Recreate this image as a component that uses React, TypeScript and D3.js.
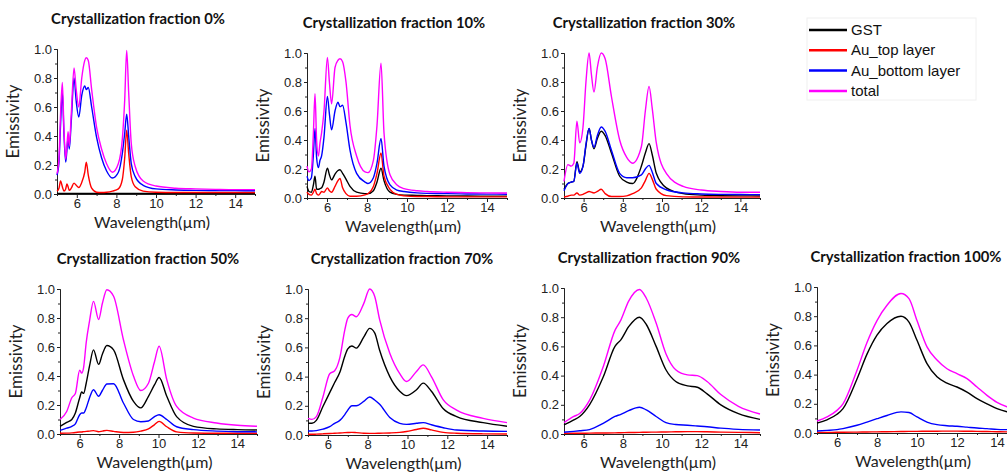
import React, { useEffect, useRef } from 'react'
import * as d3 from 'd3'

const seriesNames = ['GST', 'Au_top layer', 'Au_bottom layer', 'total']
const seriesColors = ['#000000', '#ff0000', '#0000ff', '#ff00ff']

// crystallization fraction 0%
const wl0 = [5.0, 5.1, 5.18, 5.27, 5.35, 5.44, 5.5, 5.56, 5.62, 5.72, 5.86, 5.97, 6.1, 6.25, 6.4, 6.48, 6.58, 6.75, 7.0, 7.25, 7.5, 7.8, 8.1, 8.3, 8.42, 8.52, 8.62, 8.75, 8.95, 9.35, 10, 11, 12, 13, 14, 15]
const tot0 = [0.14, 0.25, 0.55, 0.77, 0.45, 0.24, 0.33, 0.43, 0.33, 0.55, 0.87, 0.72, 0.6, 0.8, 0.92, 0.94, 0.92, 0.72, 0.46, 0.31, 0.21, 0.15, 0.21, 0.38, 0.65, 0.99, 0.7, 0.35, 0.19, 0.09, 0.055, 0.04, 0.035, 0.032, 0.03, 0.03]
const bot0 = [0.13, 0.22, 0.48, 0.7, 0.42, 0.22, 0.3, 0.39, 0.31, 0.5, 0.8, 0.64, 0.53, 0.68, 0.745, 0.72, 0.735, 0.6, 0.39, 0.25, 0.16, 0.11, 0.15, 0.28, 0.42, 0.55, 0.4, 0.21, 0.12, 0.06, 0.035, 0.028, 0.025, 0.024, 0.023, 0.022]
const top0 = [0.02, 0.04, 0.09, 0.05, 0.02, 0.035, 0.07, 0.05, 0.025, 0.04, 0.075, 0.06, 0.045, 0.08, 0.15, 0.22, 0.13, 0.04, 0.012, 0.01, 0.012, 0.02, 0.035, 0.1, 0.25, 0.44, 0.28, 0.12, 0.05, 0.02, 0.012, 0.01, 0.01, 0.01, 0.01, 0.01]
const gst0 = [0.004, 0.004, 0.004, 0.004, 0.004, 0.004, 0.004, 0.004, 0.004, 0.004, 0.004, 0.004, 0.004, 0.004, 0.004, 0.004, 0.004, 0.004, 0.004, 0.004, 0.004, 0.004, 0.004, 0.004, 0.004, 0.004, 0.004, 0.004, 0.004, 0.004, 0.004, 0.004, 0.004, 0.004, 0.004, 0.004]

// 10%
const wl10 = [5.0, 5.1, 5.22, 5.32, 5.4, 5.48, 5.57, 5.65, 5.73, 5.85, 6.02, 6.12, 6.23, 6.4, 6.55, 6.65, 6.78, 6.95, 7.15, 7.48, 7.9, 8.05, 8.32, 8.5, 8.7, 8.85, 9.15, 9.5, 9.85, 10.5, 11, 12, 13, 14, 15]
const tot10 = [0.22, 0.18, 0.2, 0.45, 0.72, 0.4, 0.29, 0.38, 0.45, 0.6, 0.97, 0.8, 0.65, 0.9, 0.95, 0.96, 0.94, 0.8, 0.5, 0.29, 0.18, 0.175, 0.26, 0.5, 0.93, 0.45, 0.16, 0.09, 0.065, 0.05, 0.045, 0.04, 0.037, 0.035, 0.034]
const bot10 = [0.15, 0.12, 0.14, 0.3, 0.48, 0.28, 0.21, 0.26, 0.29, 0.42, 0.7, 0.58, 0.47, 0.6, 0.66, 0.63, 0.64, 0.52, 0.33, 0.17, 0.11, 0.1, 0.14, 0.24, 0.41, 0.22, 0.09, 0.055, 0.045, 0.035, 0.032, 0.03, 0.028, 0.027, 0.026]
const gst10 = [0.08, 0.045, 0.04, 0.09, 0.15, 0.06, 0.06, 0.065, 0.07, 0.11, 0.205, 0.16, 0.125, 0.165, 0.19, 0.195, 0.17, 0.13, 0.08, 0.04, 0.03, 0.03, 0.05, 0.11, 0.205, 0.12, 0.04, 0.025, 0.02, 0.018, 0.016, 0.015, 0.014, 0.013, 0.013]
const top10 = [0.04, 0.025, 0.02, 0.04, 0.06, 0.03, 0.02, 0.03, 0.045, 0.04, 0.07, 0.05, 0.04, 0.08, 0.12, 0.135, 0.07, 0.03, 0.012, 0.012, 0.022, 0.03, 0.08, 0.17, 0.31, 0.15, 0.06, 0.025, 0.015, 0.01, 0.01, 0.008, 0.008, 0.008, 0.008]

// 30%
const wl30 = [5.0, 5.2, 5.37, 5.5, 5.66, 5.8, 5.97, 6.12, 6.28, 6.4, 6.53, 6.7, 6.9, 7.1, 7.42, 7.84, 8.2, 8.5, 8.95, 9.15, 9.34, 9.5, 9.71, 10.22, 11.08, 12, 13, 14, 15]
const tot30 = [0.115, 0.23, 0.22, 0.24, 0.53, 0.38, 0.49, 0.8, 1.0, 0.85, 0.73, 0.9, 1.0, 0.96, 0.7, 0.4, 0.28, 0.24, 0.355, 0.6, 0.77, 0.62, 0.38, 0.17, 0.08, 0.055, 0.045, 0.04, 0.04]
const gst30 = [0.06, 0.1, 0.11, 0.115, 0.25, 0.18, 0.22, 0.36, 0.48, 0.4, 0.34, 0.41, 0.46, 0.43, 0.31, 0.15, 0.11, 0.1, 0.22, 0.31, 0.375, 0.3, 0.17, 0.07, 0.03, 0.02, 0.016, 0.015, 0.014]
const bot30 = [0.05, 0.1, 0.11, 0.115, 0.24, 0.17, 0.22, 0.37, 0.48, 0.4, 0.35, 0.43, 0.49, 0.46, 0.33, 0.17, 0.14, 0.14, 0.16, 0.2, 0.225, 0.18, 0.1, 0.057, 0.035, 0.028, 0.025, 0.024, 0.023]
const top30 = [0.007, 0.012, 0.02, 0.02, 0.035, 0.02, 0.025, 0.035, 0.045, 0.04, 0.035, 0.045, 0.06, 0.03, 0.01, 0.01, 0.015, 0.03, 0.07, 0.12, 0.17, 0.13, 0.06, 0.016, 0.008, 0.007, 0.006, 0.006, 0.006]

// 50%
const wl50 = [5.0, 5.34, 5.6, 5.78, 6.0, 6.1, 6.2, 6.33, 6.5, 6.7, 6.96, 7.15, 7.38, 7.72, 8.22, 8.73, 9.1, 9.49, 9.8, 10.03, 10.42, 10.92, 11.77, 12.95, 14, 15]
const tot50 = [0.1, 0.155, 0.25, 0.28, 0.44, 0.42, 0.46, 0.63, 0.78, 0.915, 0.79, 0.9, 0.995, 0.95, 0.65, 0.4, 0.3, 0.35, 0.5, 0.605, 0.375, 0.19, 0.11, 0.076, 0.06, 0.053]
const gst50 = [0.053, 0.08, 0.1, 0.145, 0.25, 0.29, 0.28, 0.35, 0.47, 0.58, 0.48, 0.55, 0.61, 0.58, 0.375, 0.225, 0.18, 0.26, 0.34, 0.39, 0.26, 0.12, 0.053, 0.035, 0.03, 0.028]
const bot50 = [0.025, 0.04, 0.053, 0.07, 0.133, 0.145, 0.145, 0.18, 0.25, 0.305, 0.26, 0.3, 0.345, 0.347, 0.214, 0.1, 0.085, 0.09, 0.12, 0.133, 0.1, 0.05, 0.03, 0.02, 0.016, 0.015]
const top50 = [0.005, 0.006, 0.008, 0.01, 0.014, 0.014, 0.016, 0.018, 0.02, 0.023, 0.016, 0.02, 0.025, 0.018, 0.01, 0.012, 0.02, 0.035, 0.065, 0.087, 0.05, 0.015, 0.007, 0.005, 0.005, 0.005]

// 70%
const wl70 = [5.0, 5.2, 5.42, 5.75, 6.09, 6.34, 6.6, 6.85, 7.0, 7.2, 7.43, 7.8, 8.1, 8.35, 8.6, 9.11, 9.61, 9.95, 10.45, 10.79, 11.2, 11.8, 12.47, 13.8, 15]
const tot70 = [0.114, 0.107, 0.126, 0.26, 0.42, 0.44, 0.53, 0.72, 0.8, 0.825, 0.81, 0.9, 1.0, 0.95, 0.79, 0.56, 0.42, 0.366, 0.435, 0.48, 0.4, 0.24, 0.17, 0.114, 0.085]
const gst70 = [0.08, 0.08, 0.1, 0.195, 0.29, 0.36, 0.43, 0.54, 0.59, 0.61, 0.595, 0.67, 0.73, 0.7, 0.58, 0.4, 0.3, 0.27, 0.31, 0.355, 0.3, 0.18, 0.126, 0.085, 0.06]
const bot70 = [0.027, 0.027, 0.03, 0.04, 0.057, 0.08, 0.1, 0.14, 0.17, 0.2, 0.2, 0.23, 0.26, 0.24, 0.21, 0.12, 0.08, 0.073, 0.08, 0.085, 0.07, 0.05, 0.034, 0.027, 0.025]
const top70 = [0.005, 0.005, 0.006, 0.008, 0.01, 0.012, 0.014, 0.016, 0.017, 0.018, 0.016, 0.012, 0.011, 0.011, 0.012, 0.014, 0.018, 0.024, 0.038, 0.046, 0.035, 0.018, 0.012, 0.008, 0.007]

// 90%
const wl90 = [5.0, 5.5, 5.8, 6.3, 7.0, 7.6, 7.9, 8.3, 8.85, 9.2, 9.7, 10.2, 10.7, 11.3, 11.8, 12.3, 13, 13.9, 15]
const tot90 = [0.078, 0.12, 0.14, 0.23, 0.46, 0.71, 0.78, 0.91, 0.99, 0.93, 0.76, 0.55, 0.44, 0.405, 0.4, 0.36, 0.27, 0.19, 0.137]
const gst90 = [0.062, 0.096, 0.12, 0.2, 0.39, 0.6, 0.645, 0.735, 0.8, 0.75, 0.6, 0.44, 0.36, 0.33, 0.32, 0.275, 0.2, 0.14, 0.1]
const bot90 = [0.012, 0.018, 0.022, 0.03, 0.073, 0.12, 0.135, 0.16, 0.183, 0.165, 0.12, 0.078, 0.065, 0.06, 0.055, 0.05, 0.04, 0.032, 0.027]
const top90 = [0.004, 0.005, 0.005, 0.006, 0.007, 0.008, 0.009, 0.01, 0.011, 0.012, 0.013, 0.014, 0.015, 0.016, 0.016, 0.015, 0.013, 0.011, 0.009]

// 100%
const wl100 = [5.0, 5.5, 6.0, 6.3, 7.0, 7.5, 8.0, 8.5, 9.2, 9.6, 10, 10.5, 11, 11.5, 12, 12.5, 13, 13.5, 14, 14.5, 15]
const tot100 = [0.082, 0.11, 0.155, 0.2, 0.43, 0.62, 0.77, 0.875, 0.955, 0.92, 0.77, 0.59, 0.5, 0.44, 0.406, 0.372, 0.315, 0.258, 0.21, 0.18, 0.16]
const gst100 = [0.068, 0.09, 0.128, 0.167, 0.37, 0.54, 0.67, 0.75, 0.8, 0.76, 0.635, 0.475, 0.385, 0.342, 0.315, 0.28, 0.235, 0.2, 0.167, 0.145, 0.13]
const bot100 = [0.014, 0.018, 0.023, 0.03, 0.053, 0.075, 0.098, 0.12, 0.145, 0.14, 0.11, 0.075, 0.057, 0.05, 0.046, 0.04, 0.034, 0.03, 0.025, 0.023, 0.022]
const top100 = [0.004, 0.004, 0.005, 0.005, 0.006, 0.007, 0.008, 0.009, 0.01, 0.011, 0.011, 0.012, 0.012, 0.013, 0.013, 0.012, 0.011, 0.01, 0.009, 0.008, 0.008]

const xMajor = [6, 8, 10, 12, 14]
const xMinor = [5, 7, 9, 11, 13, 15]
const yMajor = [0, 0.2, 0.4, 0.6, 0.8, 1.0]
const yMinor = [0.1, 0.3, 0.5, 0.7, 0.9]

const panels = [
  { title: 'Crystallization fraction 0%', wl: wl0, series: [gst0, top0, bot0, tot0] },
  { title: 'Crystallization fraction 10%', wl: wl10, series: [gst10, top10, bot10, tot10] },
  { title: 'Crystallization fraction 30%', wl: wl30, series: [gst30, top30, bot30, tot30] },
  { title: 'Crystallization fraction 50%', wl: wl50, series: [gst50, top50, bot50, tot50] },
  { title: 'Crystallization fraction 70%', wl: wl70, series: [gst70, top70, bot70, tot70] },
  { title: 'Crystallization fraction 90%', wl: wl90, series: [gst90, top90, bot90, tot90] },
  { title: 'Crystallization fraction 100%', wl: wl100, series: [gst100, top100, bot100, tot100] },
]

// plot boxes in page pixels
const layout = [
  { left: 57, right: 255, top: 49, bottom: 194, titleX: 138 },
  { left: 307, right: 507, top: 53, bottom: 198, titleX: 394 },
  { left: 564, right: 760, top: 53, bottom: 198, titleX: 644 },
  { left: 60, right: 257, top: 289, bottom: 434, titleX: 148 },
  { left: 308, right: 507, top: 289, bottom: 435, titleX: 402 },
  { left: 564, right: 760, top: 288, bottom: 434, titleX: 649 },
  { left: 817, right: 1017, top: 287, bottom: 433, titleX: 906 },
]

const W = 1007
const H = 476

const App = () => {
  const ref = useRef<SVGSVGElement>(null)

  useEffect(() => {
    const svg = d3.select(ref.current)
    svg.selectAll('*').remove()

    panels.forEach((p, i) => {
      const b = layout[i]
      const x = d3.scaleLinear().domain([5, 15]).range([b.left, b.right])
      const y = d3.scaleLinear().domain([0, 1]).range([b.bottom, b.top])
      const g = svg.append('g')

      // minor ticks
      g.append('g')
        .attr('transform', `translate(0,${b.bottom})`)
        .call(d3.axisBottom(x).tickValues(xMinor).tickSize(2).tickFormat(() => ''))
      g.append('g')
        .attr('transform', `translate(${b.left},0)`)
        .call(d3.axisLeft(y).tickValues(yMinor).tickSize(2).tickFormat(() => ''))

      g.append('g')
        .attr('transform', `translate(0,${b.bottom})`)
        .call(d3.axisBottom(x).tickValues(xMajor).tickSize(4).tickPadding(1).tickSizeOuter(0))
      g.append('g')
        .attr('transform', `translate(${b.left},0)`)
        .call(d3.axisLeft(y).tickValues(yMajor).tickFormat(d3.format('.1f')).tickSize(3).tickPadding(2).tickSizeOuter(0))

      g.selectAll('.domain, .tick line').attr('stroke', '#222')
      g.selectAll('.tick text')
        .attr('fill', '#222')
        .style('font-family', '"Liberation Sans", Arial, sans-serif')
        .style('font-size', '13px')

      const line = d3.line<number>()
        .x((_, k) => x(p.wl[k]))
        .y((d) => y(d))
        .curve(d3.curveMonotoneX)

      p.series.forEach((s, k) => {
        g.append('path')
          .attr('d', line(s))
          .attr('fill', 'none')
          .attr('stroke', seriesColors[k])
          .attr('stroke-width', 1.4)
      })

      g.append('text')
        .attr('x', b.titleX)
        .attr('y', b.top - 25)
        .attr('text-anchor', 'middle')
        .style('font-family', 'Lato, "Open Sans", sans-serif')
        .style('font-weight', 'bold')
        .style('font-size', '14.8px')
        .attr('fill', '#111')
        .text(p.title)

      g.append('text')
        .attr('transform', `translate(${b.left - 38},${(b.top + b.bottom) / 2}) rotate(-90)`)
        .attr('text-anchor', 'middle')
        .style('font-family', 'Lato, "Open Sans", sans-serif')
        .style('font-size', '17px')
        .attr('fill', '#222')
        .text('Emissivity')

      g.append('text')
        .attr('x', (b.left + b.right) / 2 - 4)
        .attr('y', b.bottom + 34)
        .attr('text-anchor', 'middle')
        .style('font-family', 'Lato, "Open Sans", sans-serif')
        .style('font-size', '16px')
        .attr('fill', '#222')
        .text('Wavelength(\u00b5m)')
    })

    // legend
    const lg = svg.append('g')
    lg.append('rect')
      .attr('x', 807).attr('y', 18).attr('width', 169).attr('height', 82)
      .attr('fill', '#fff').attr('stroke', '#f0f0f0')
    seriesNames.forEach((name, k) => {
      const yy = 30 + k * 20.3
      lg.append('line')
        .attr('x1', 809).attr('x2', 847).attr('y1', yy).attr('y2', yy)
        .attr('stroke', seriesColors[k]).attr('stroke-width', 2.5)
      lg.append('text')
        .attr('x', 851).attr('y', yy + 5)
        .style('font-family', '"Liberation Sans", Arial, sans-serif')
        .style('font-size', '15px')
        .attr('fill', '#111')
        .text(name)
    })
  }, [])

  return (
    <svg ref={ref} width={W} height={H} style={{ position: 'absolute', left: 0, top: 0, background: '#fff' }} />
  )
}

export default App
